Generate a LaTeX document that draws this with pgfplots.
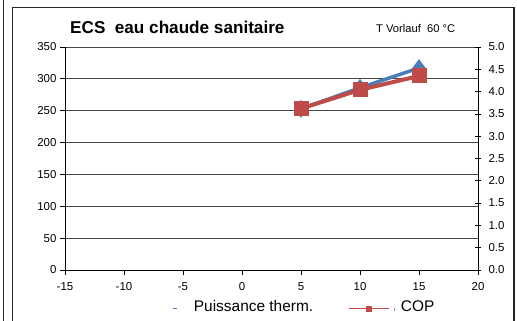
\documentclass[border=0pt]{standalone}
\usepackage{fontspec}
\setmainfont{Liberation Sans}
\usepackage{pgfplots}
\pgfplotsset{compat=1.18}

\definecolor{thermblue}{RGB}{74,126,187}
\definecolor{copred}{RGB}{190,75,72}
\definecolor{gridgray}{RGB}{70,70,70}

\pgfplotsset{
  common/.style={
    at={(65bp,50bp)}, anchor=south west,
    scale only axis, width=413bp, height=223bp,
    xmin=-15, xmax=20,
    clip=false,
    /pgf/number format/assume math mode=true,
    ticklabel style={font=\fontsize{11.5}{12}\selectfont},
    tick style={black, line width=0.8bp},
    axis line style={black, line width=1bp},
  }
}

\begin{document}
\begin{tikzpicture}[x=1bp,y=1bp]
\useasboundingbox (0,0) rectangle (517,320);
\clip (0,0) rectangle (517,320);

% chart frame and neighbouring border
\draw[black!85, line width=1.2bp] (3.5,-5) -- (3.5,325);
\draw[black!85, line width=1.3bp] (12.5,-5) -- (12.5,312.5) -- (514,312.5) -- (514,-5);

% titles
\node[anchor=base west, inner sep=0pt, font=\bfseries\fontsize{17.2}{17}\selectfont] at (70,287) {ECS\ \ eau chaude sanitaire};
\node[anchor=base west, inner sep=0pt, font=\fontsize{11.2}{11}\selectfont] at (376,288) {T Vorlauf\ \ 60 °C};

% thermal power, left axis
\begin{axis}[
  common,
  ymin=0, ymax=350,
  xtick={-15,-10,-5,0,5,10,15,20},
  ytick={0,50,100,150,200,250,300,350},
  xticklabel style={yshift=-4bp},
  axis x line*=bottom, axis y line*=left,
  tick align=outside, major tick length=5bp,
  ymajorgrids, grid style={gridgray, line width=0.9bp},
  legend columns=2,
  legend style={at={(rel axis cs:0.259,-0.166)}, anchor=west,
    draw=none, fill=none, inner sep=0pt,
    font=\fontsize{15.5}{16}\selectfont,
    nodes={inner sep=0pt},
    /tikz/every even column/.append style={column sep=35bp}},
  legend cell align=left,
]
\addplot[thermblue, line width=3.5bp, mark=diamond*, mark size=6bp, forget plot]
  coordinates {(5,253) (10,286) (15,317)};

\addlegendimage{legend image code/.code={
  \path[draw=none, fill=none] (0bp,-9bp) rectangle (21bp,9bp);
  \draw[thermblue, line width=1.5bp] (0bp,-1.5bp) -- (4bp,-1.5bp);
}}
\addlegendentry{Puissance therm.}
\addlegendimage{legend image code/.code={
  \path[draw=none, fill=none] (0bp,-9bp) rectangle (52bp,9bp);
  \draw[copred, line width=1.5bp] (0bp,-1.5bp) -- (40bp,-1.5bp);
  \fill[copred] (17.5bp,-4bp) rectangle (22.5bp,1bp);
  \draw[black!40, line width=0.8bp] (45bp,-3.5bp) -- (45bp,-0.5bp);
}}
\addlegendentry{COP}
\end{axis}

% COP, right axis
\begin{axis}[
  common,
  ymin=0, ymax=5,
  axis x line=none, axis y line*=right,
  ytick={0,0.5,1,1.5,2,2.5,3,3.5,4,4.5,5},
  yticklabel style={xshift=4bp, /pgf/number format/.cd, fixed, fixed zerofill, precision=1},
  tick align=center, major tick length=6bp,
]
\addplot[copred, line width=4bp, mark=square*, mark size=5.5bp]
  coordinates {(5,3.62) (10,4.04) (15,4.35)};
\end{axis}
\end{tikzpicture}
\end{document}
